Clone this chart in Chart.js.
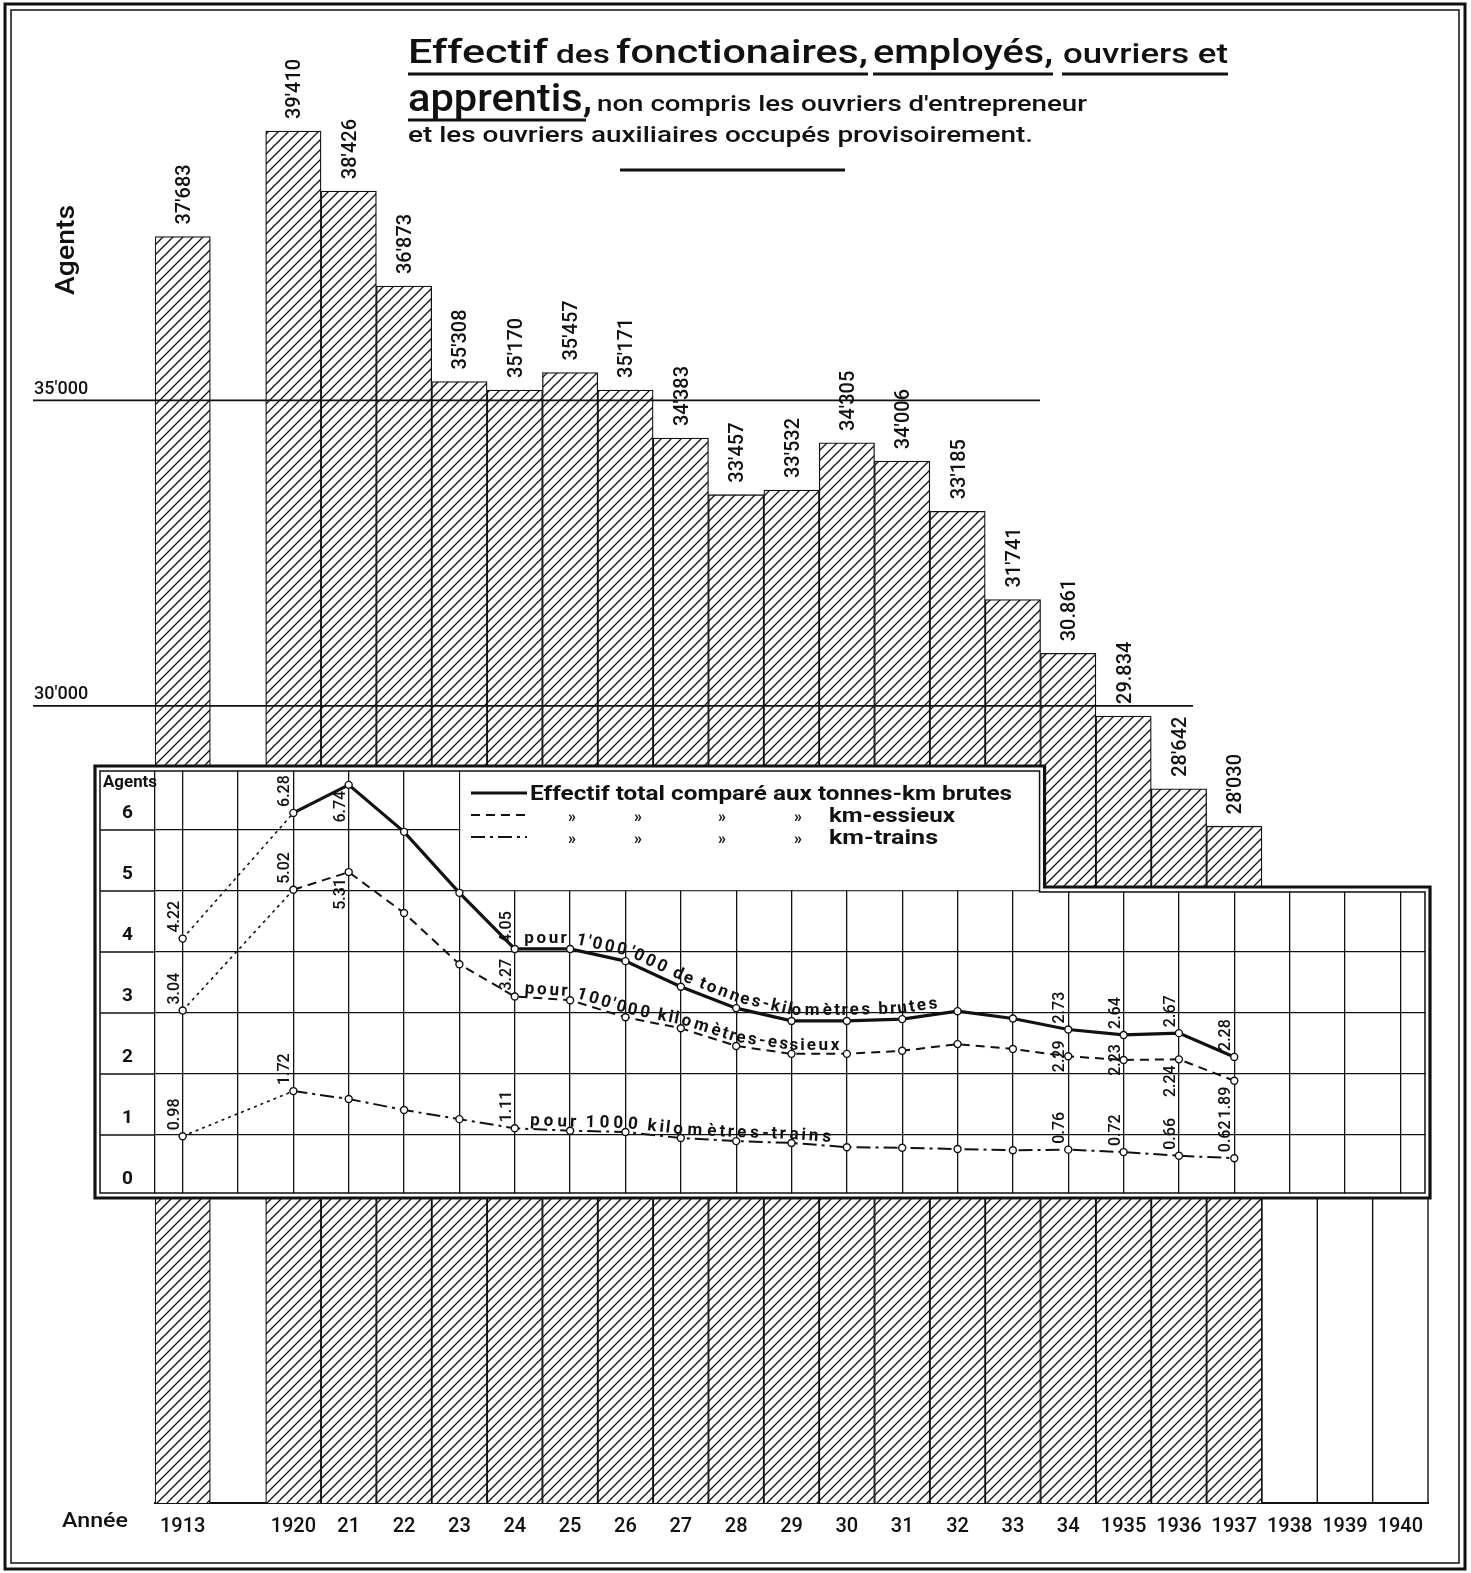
<!DOCTYPE html>
<html>
<head>
<meta charset="utf-8">
<title>Effectif des fonctionaires, employés, ouvriers et apprentis</title>
<script src="https://cdn.jsdelivr.net/npm/chart.js@4.4.1/dist/chart.umd.min.js"></script>
<style>
  body { margin: 0; background: #fff; }
  #wrap { position: relative; width: 1471px; height: 1573px; }
  #bars { position: absolute; left: 0; top: 0; }
  #inset { position: absolute; left: 90px; top: 760px; }
</style>
</head>
<body>
<div id="wrap">
  <canvas id="bars" width="1471" height="1573"></canvas>
  <canvas id="inset" width="1345" height="445"></canvas>
</div>
<script>
// categories (the blank one is the 1914-1919 gap)
const years = ['1913', '', '1920', '21', '22', '23', '24', '25', '26', '27', '28', '29', '30',
  '31', '32', '33', '34', '1935', '1936', '1937', '1938', '1939', '1940'];

// effectif total (agents)
const agents = [37683, null, 39410, 38426, 36873, 35308, 35170, 35457, 35171, 34383, 33457, 33532,
  34305, 34006, 33185, 31741, 30861, 29834, 28642, 28030, null, null, null];

// agents pour 1'000'000 tonnes-km brutes
const parTonnesKm = [4.22, null, 6.28, 6.74, 5.97, 4.97, 4.05, 4.05, 3.85, 3.43, 3.08, 2.87,
  2.87, 2.90, 3.03, 2.91, 2.73, 2.64, 2.67, 2.28, null, null, null];
// agents pour 100'000 km-essieux
const parKmEssieux = [3.04, null, 5.02, 5.31, 4.64, 3.80, 3.27, 3.21, 2.93, 2.75, 2.46, 2.33,
  2.33, 2.38, 2.49, 2.41, 2.29, 2.23, 2.24, 1.89, null, null, null];
// agents pour 1000 km-trains
const parKmTrains = [0.98, null, 1.72, 1.59, 1.41, 1.26, 1.11, 1.07, 1.05, 0.95, 0.90, 0.87,
  0.80, 0.79, 0.77, 0.75, 0.76, 0.72, 0.66, 0.62, null, null, null];

const barTicks = [30000, 35000];
const insetTicks = [0, 1, 2, 3, 4, 5, 6];

// where the printed values sit next to the points: a = above, b = below, c = centred
const labelPlaces = [
  { 0: 'a', 2: 'a', 3: 'b', 6: 'a', 16: 'a', 17: 'a', 18: 'a', 19: 'a' },
  { 0: 'a', 2: 'a', 3: 'b', 6: 'a', 16: 'c', 17: 'c', 18: 'b', 19: 'b' },
  { 0: 'a', 2: 'a', 6: 'a', 16: 'a', 17: 'a', 18: 'a', 19: 'a' }
];

const pathTexts = [
  { text: "pour 1'000'000 de tonnes-kilomètres brutes", from: 6, start: 8, len: 430, gap: 6 },
  { text: "pour 100'000 kilomètres-essieux", from: 6, start: 8, len: 325, gap: 4 },
  { text: "pour 1000 kilomètres-trains", from: 6, start: 13, len: 305, gap: 4 }
];

const INK = '#111';
Chart.defaults.font.family = 'Roboto';
Chart.defaults.color = INK;

function fmt(v, sep) {
  const s = String(v);
  return s.slice(0, -3) + (sep || "'") + s.slice(-3);
}

function fitText(ctx, text, x, y, w, font) {
  ctx.font = font;
  const m = ctx.measureText(text).width;
  ctx.save();
  ctx.translate(x, y);
  ctx.scale(w / m, 1);
  ctx.textAlign = 'left';
  ctx.fillText(text, 0, 0);
  ctx.restore();
}

function makeHatch(ctx) {
  const c = document.createElement('canvas');
  c.width = 10; c.height = 10;
  const g = c.getContext('2d');
  g.fillStyle = '#fff';
  g.fillRect(0, 0, 10, 10);
  g.strokeStyle = INK;
  g.lineWidth = 1.3;
  g.beginPath();
  g.moveTo(-1, 11); g.lineTo(11, -1);
  g.moveTo(-1, 1); g.lineTo(1, -1);
  g.moveTo(9, 11); g.lineTo(11, 9);
  g.stroke();
  return ctx.createPattern(c, 'repeat');
}

function underline(ctx, x1, x2, y) {
  ctx.beginPath();
  ctx.moveTo(x1, y);
  ctx.lineTo(x2, y);
  ctx.stroke();
}

function noScalePadding(s) {
  s.paddingTop = 0;
  s.paddingBottom = 0;
  s.paddingLeft = 0;
  s.paddingRight = 0;
}

const barDecor = {
  id: 'barDecor',
  beforeDraw(chart) {
    const ctx = chart.ctx;
    ctx.save();
    ctx.fillStyle = '#fff';
    ctx.fillRect(0, 0, chart.width, chart.height);
    ctx.restore();
  },
  afterDatasetsDraw(chart) {
    const ctx = chart.ctx;
    const xs = chart.scales.x, ys = chart.scales.y;
    const half = (xs.getPixelForValue(1) - xs.getPixelForValue(0)) / 2;
    ctx.save();
    ctx.strokeStyle = INK;
    ctx.fillStyle = INK;

    // 35'000 and 30'000 lines
    ctx.lineWidth = 1.6;
    underline(ctx, 33, 1040, ys.getPixelForValue(35000));
    underline(ctx, 33, 1193, ys.getPixelForValue(30000));

    // empty columns for 1938-1940 under the inset
    ctx.lineWidth = 1.4;
    for (let i = 19; i < years.length; i++) {
      const xr = xs.getPixelForValue(i) + half;
      ctx.beginPath();
      ctx.moveTo(xr, 1198);
      ctx.lineTo(xr, chart.chartArea.bottom);
      ctx.stroke();
    }

    // values above the bars
    const meta = chart.getDatasetMeta(0);
    ctx.font = '500 20px Roboto';
    ctx.textAlign = 'left';
    ctx.textBaseline = 'middle';
    meta.data.forEach((bar, i) => {
      if (agents[i] == null) return;
      const sep = (years[i] === '34' || years[i] === '1935') ? '.' : "'";
      ctx.save();
      ctx.translate(bar.x + 2, bar.y - 12);
      ctx.rotate(-Math.PI / 2);
      ctx.fillText(fmt(agents[i], sep), 0, 0);
      ctx.restore();
    });

    // axis words
    ctx.save();
    ctx.translate(74, 295);
    ctx.rotate(-Math.PI / 2);
    ctx.textBaseline = 'alphabetic';
    fitText(ctx, 'Agents', 0, 0, 90, '500 25px Roboto');
    ctx.restore();
    ctx.textBaseline = 'alphabetic';
    fitText(ctx, 'Année', 62, 1527, 66, '500 20px Roboto');

    // title
    fitText(ctx, 'Effectif', 408, 63, 140, '500 33px Roboto');
    fitText(ctx, 'des', 556, 63, 54, '500 25px Roboto');
    fitText(ctx, 'fonctionaires,', 616, 63, 252, '500 33px Roboto');
    fitText(ctx, 'employés,', 873, 63, 180, '500 33px Roboto');
    fitText(ctx, 'ouvriers et', 1063, 63, 165, '500 27px Roboto');
    fitText(ctx, 'apprentis,', 408, 111, 184, '500 38px Roboto');
    fitText(ctx, "non compris les ouvriers d'entrepreneur", 597, 111, 490, '500 22px Roboto');
    fitText(ctx, 'et les ouvriers auxiliaires occupés provisoirement.', 408, 142, 625, '500 22px Roboto');
    ctx.lineWidth = 3;
    underline(ctx, 408, 868, 74);
    underline(ctx, 873, 1053, 74);
    underline(ctx, 1062, 1228, 74);
    underline(ctx, 408, 586, 120);
    underline(ctx, 620, 845, 170);

    // frame
    ctx.lineWidth = 3;
    ctx.strokeRect(5, 4, 1460, 1565);
    ctx.lineWidth = 1.5;
    ctx.strokeRect(11, 10, 1448, 1553);
    ctx.restore();
  }
};

const barCtx = document.getElementById('bars').getContext('2d');
const hatch = makeHatch(barCtx);

new Chart(barCtx, {
  type: 'bar',
  data: {
    labels: years,
    datasets: [{
      data: agents,
      backgroundColor: hatch,
      borderColor: INK,
      borderWidth: 1.3,
      borderSkipped: 'start',
      barPercentage: 1,
      categoryPercentage: 1
    }]
  },
  options: {
    responsive: false,
    animation: false,
    devicePixelRatio: 1,
    layout: { padding: { left: 34, top: 95, right: 43, bottom: 30 } },
    plugins: { legend: { display: false }, tooltip: { enabled: false } },
    scales: {
      x: {
        grid: { display: false },
        border: { display: true, color: INK, width: 2 },
        ticks: { autoSkip: false, maxRotation: 0, padding: 4, font: { size: 20, weight: '500' } },
        afterFit: s => { s.height = 40; noScalePadding(s); }
      },
      y: {
        min: 16950,
        max: 40000,
        grid: { display: false },
        border: { display: false },
        afterBuildTicks: s => { s.ticks = barTicks.map(v => ({ value: v })); },
        ticks: { crossAlign: 'far', labelOffset: -11, font: { size: 18, weight: '500' }, callback: v => fmt(v) },
        afterFit: s => { s.width = 121; noScalePadding(s); }
      }
    }
  },
  plugins: [barDecor]
});

// ---- inset line chart ----

function insetShape(ctx, d, notchX, notchY, W, H) {
  ctx.beginPath();
  ctx.moveTo(5 + d, 6 + d);
  ctx.lineTo(notchX - d, 6 + d);
  ctx.lineTo(notchX - d, notchY + d);
  ctx.lineTo(W - 5 - d, notchY + d);
  ctx.lineTo(W - 5 - d, H - 7 - d);
  ctx.lineTo(5 + d, H - 7 - d);
  ctx.closePath();
}

function drawAlongPath(ctx, pts, cfg) {
  const cum = [0];
  for (let i = 1; i < pts.length; i++) {
    cum.push(cum[i - 1] + Math.hypot(pts[i].x - pts[i - 1].x, pts[i].y - pts[i - 1].y));
  }
  const at = s => {
    let i = 1;
    while (i < pts.length - 1 && cum[i] < s) i++;
    const a = pts[i - 1], b = pts[i];
    const t = (s - cum[i - 1]) / (cum[i] - cum[i - 1]);
    return { x: a.x + (b.x - a.x) * t, y: a.y + (b.y - a.y) * t, ang: Math.atan2(b.y - a.y, b.x - a.x) };
  };
  const chars = [...cfg.text];
  const widths = chars.map(c => ctx.measureText(c).width);
  const k = cfg.len / widths.reduce((p, q) => p + q, 0);
  let s = cfg.start;
  chars.forEach((c, j) => {
    const w = widths[j] * k;
    const p = at(s + w / 2);
    ctx.save();
    ctx.translate(p.x, p.y);
    ctx.rotate(p.ang);
    ctx.fillText(c, 0, -cfg.gap);
    ctx.restore();
    s += w;
  });
}

const insetDecor = {
  id: 'insetDecor',
  beforeDraw(chart) {
    const ctx = chart.ctx;
    const xs = chart.scales.x, ys = chart.scales.y;
    const half = (xs.getPixelForValue(1) - xs.getPixelForValue(0)) / 2;
    chart.$notchX = xs.getPixelForValue(16) - half + 4;
    chart.$notchY = ys.getPixelForValue(5) - 4;
    ctx.save();
    ctx.fillStyle = '#fff';
    insetShape(ctx, 0, chart.$notchX, chart.$notchY, chart.width, chart.height);
    ctx.fill();
    ctx.restore();
  },
  beforeDatasetsDraw(chart) {
    const ctx = chart.ctx;
    const xs = chart.scales.x, ys = chart.scales.y;
    const nx = chart.$notchX, ny = chart.$notchY;
    const W = chart.width, H = chart.height;
    ctx.save();
    // notch shows the bars underneath
    ctx.clearRect(nx, 0, W - nx, ny);
    // blank legend field
    const lx = xs.getPixelForValue(5) + 1;
    const ly = ys.getPixelForValue(5) - 0.8;
    ctx.fillStyle = '#fff';
    ctx.fillRect(lx, 6, nx - lx, ly - 6);

    ctx.strokeStyle = INK;
    // grid stubs under the tick labels
    ctx.lineWidth = 1.3;
    insetTicks.slice(1).forEach(v => {
      const y = ys.getPixelForValue(v);
      underline(ctx, 10, chart.chartArea.left, y);
    });
    // double border
    ctx.strokeStyle = '#fff';
    ctx.lineWidth = 4;
    insetShape(ctx, 2.5, nx, ny, W, H);
    ctx.stroke();
    ctx.strokeStyle = INK;
    ctx.lineWidth = 3.2;
    insetShape(ctx, 0, nx, ny, W, H);
    ctx.stroke();
    ctx.lineWidth = 1.5;
    insetShape(ctx, 5, nx, ny, W, H);
    ctx.stroke();

    ctx.fillStyle = INK;
    ctx.textBaseline = 'alphabetic';
    fitText(ctx, 'Agents', 13, 27, 54, 'bold 16px Roboto');

    // legend
    const samples = [
      { y: 33, dash: [], w: 3.2 },
      { y: 55, dash: [9, 6], w: 2 },
      { y: 77, dash: [14, 5, 3, 5], w: 2 }
    ];
    samples.forEach(sm => {
      ctx.setLineDash(sm.dash);
      ctx.lineWidth = sm.w;
      underline(ctx, 381, 437, sm.y);
    });
    ctx.setLineDash([]);
    fitText(ctx, 'Effectif total comparé aux tonnes-km brutes', 440, 40, 482, 'bold 20px Roboto');
    ctx.font = 'bold 16px Roboto';
    ctx.textAlign = 'center';
    [482, 548, 632, 708].forEach(x => {
      ctx.fillText('»', x, 62);
      ctx.fillText('»', x, 84);
    });
    fitText(ctx, 'km-essieux', 739, 62, 126, 'bold 20px Roboto');
    fitText(ctx, 'km-trains', 739, 84, 109, 'bold 20px Roboto');
    ctx.restore();
  },
  afterDatasetsDraw(chart) {
    const ctx = chart.ctx;
    ctx.save();
    ctx.fillStyle = INK;
    // values next to the points
    ctx.font = '500 16px Roboto';
    ctx.textBaseline = 'middle';
    chart.data.datasets.forEach((ds, d) => {
      const meta = chart.getDatasetMeta(d);
      Object.keys(labelPlaces[d]).forEach(k => {
        const i = Number(k);
        const p = meta.data[i];
        const place = labelPlaces[d][k];
        ctx.save();
        if (place === 'a') {
          ctx.translate(p.x - 8, p.y - 6);
          ctx.textAlign = 'left';
        } else if (place === 'b') {
          ctx.translate(p.x - 8, p.y + 6);
          ctx.textAlign = 'right';
        } else {
          ctx.translate(p.x - 8, p.y);
          ctx.textAlign = 'center';
        }
        ctx.rotate(-Math.PI / 2);
        ctx.fillText(ds.data[i].toFixed(2), 0, 0);
        ctx.restore();
      });
    });
    // captions running along the curves
    ctx.font = 'bold 17px Roboto';
    ctx.textAlign = 'center';
    ctx.textBaseline = 'alphabetic';
    pathTexts.forEach((cfg, d) => {
      const meta = chart.getDatasetMeta(d);
      const pts = meta.data.slice(cfg.from).filter((p, j) => chart.data.datasets[d].data[cfg.from + j] != null)
        .map(p => ({ x: p.x, y: p.y }));
      drawAlongPath(ctx, pts, cfg);
    });
    ctx.restore();
  }
};

// the 1913 -> 1920 stretch (across the gap) is drawn dotted
const firstSeg = (dotted, normal) => c => c.p1DataIndex <= 2 ? dotted : normal;

const point = {
  pointRadius: 3.5,
  pointBackgroundColor: '#fff',
  pointBorderColor: INK,
  pointBorderWidth: 1.4,
  borderColor: INK,
  tension: 0
};

new Chart(document.getElementById('inset'), {
  type: 'line',
  data: {
    labels: years,
    datasets: [
      Object.assign({
        data: parTonnesKm,
        borderWidth: 3.2,
        segment: { borderDash: firstSeg([3, 4], []), borderWidth: firstSeg(1.6, 3.2) }
      }, point),
      Object.assign({
        data: parKmEssieux,
        borderWidth: 2,
        borderDash: [9, 6],
        segment: { borderDash: firstSeg([3, 4], [9, 6]), borderWidth: firstSeg(1.6, 2) }
      }, point),
      Object.assign({
        data: parKmTrains,
        borderWidth: 2,
        borderDash: [14, 5, 3, 5],
        segment: { borderDash: firstSeg([3, 4], [14, 5, 3, 5]), borderWidth: firstSeg(1.6, 2) }
      }, point)
    ]
  },
  options: {
    responsive: false,
    animation: false,
    devicePixelRatio: 1,
    spanGaps: true,
    layout: { padding: { left: 0, top: 9, right: 7, bottom: 9 } },
    plugins: { legend: { display: false }, tooltip: { enabled: false } },
    scales: {
      x: {
        offset: true,
        grid: { offset: false, color: INK, lineWidth: 1.3, drawTicks: false },
        border: { display: false },
        ticks: { display: false },
        afterFit: s => { s.height = 0; noScalePadding(s); }
      },
      y: {
        min: 0,
        max: 7,
        afterBuildTicks: s => { s.ticks = insetTicks.concat([7]).map(v => ({ value: v })); },
        grid: {
          color: c => (c.tick && (c.tick.value === 0 || c.tick.value === 7)) ? 'rgba(0,0,0,0)' : INK,
          lineWidth: 1.3,
          drawTicks: false
        },
        border: { display: true, color: INK, width: 1.3 },
        ticks: {
          crossAlign: 'center',
          padding: 22,
          labelOffset: -17,
          font: { size: 19, weight: 'bold' },
          callback: v => (v < 7 ? v : '')
        },
        afterFit: s => { s.width = 65; noScalePadding(s); }
      }
    }
  },
  plugins: [insetDecor]
});
</script>
</body>
</html>
